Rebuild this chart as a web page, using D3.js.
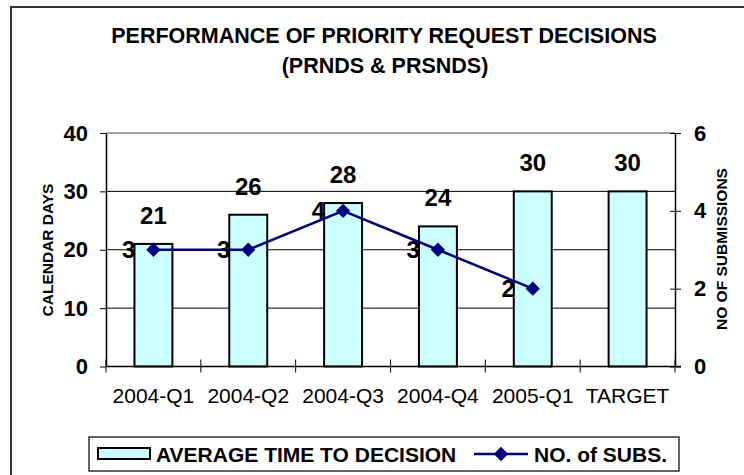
<!DOCTYPE html>
<html>
<head>
<meta charset="utf-8">
<script src="https://cdn.jsdelivr.net/npm/d3@7"></script>
<style>
  body { margin: 0; background: #fff; }
  svg { display: block; font-family: "Liberation Sans", Arial, sans-serif; }
</style>
</head>
<body>
<svg id="chart" width="744" height="475"></svg>
<script>
const categories = ["2004-Q1", "2004-Q2", "2004-Q3", "2004-Q4", "2005-Q1", "TARGET"];
const avgDays = [21, 26, 28, 24, 30, 30];
const subs = [3, 3, 4, 3, 2, null];
const leftTicks = [0, 10, 20, 30, 40];
const rightTicks = [0, 2, 4, 6];

const svg = d3.select("#chart");
const plot = { left: 106, right: 675, top: 133, bottom: 366.5 };

// outer chart frame (right/bottom run off the page)
svg.append("rect")
  .attr("x", 11).attr("y", 7)
  .attr("width", 800).attr("height", 500)
  .attr("fill", "#fff").attr("stroke", "#333").attr("stroke-width", 2);

// title
svg.append("text").attr("x", 384).attr("y", 43)
  .attr("text-anchor", "middle").attr("font-size", 21.5).attr("font-weight", "bold")
  .text("PERFORMANCE OF PRIORITY REQUEST DECISIONS");
svg.append("text").attr("x", 385).attr("y", 73)
  .attr("text-anchor", "middle").attr("font-size", 21.5).attr("font-weight", "bold")
  .text("(PRNDS & PRSNDS)");

const x = d3.scaleBand().domain(categories).range([plot.left, plot.right]).padding(0);
const y = d3.scaleLinear().domain([0, 40]).range([plot.bottom, plot.top]);
const y2 = d3.scaleLinear().domain([0, 6]).range([plot.bottom, plot.top]);
const barW = x.bandwidth() * 0.4;
const cx = d => x(d) + x.bandwidth() / 2;

// gridlines
svg.append("g").selectAll("line")
  .data(leftTicks.filter(t => t > 0))
  .join("line")
  .attr("x1", plot.left).attr("x2", plot.right)
  .attr("y1", d => y(d)).attr("y2", d => y(d))
  .attr("stroke", d => d === 40 ? "#808080" : "#000")
  .attr("stroke-width", d => d === 40 ? 1.5 : 1);

// bars
svg.append("g").selectAll("rect")
  .data(avgDays)
  .join("rect")
  .attr("x", (d, i) => cx(categories[i]) - barW / 2)
  .attr("y", d => y(d))
  .attr("width", barW)
  .attr("height", d => plot.bottom - y(d))
  .attr("fill", "#CCFFFF").attr("stroke", "#000").attr("stroke-width", 2);

// left axis
const gl = svg.append("g")
  .attr("transform", `translate(${plot.left},0)`)
  .call(d3.axisLeft(y).tickValues(leftTicks).tickSize(6).tickPadding(12).tickSizeOuter(0));
gl.select(".domain").attr("stroke", "#000").attr("stroke-width", 1.5);
gl.selectAll("text").attr("font-size", 22).attr("font-weight", "bold")
  .attr("font-family", "Liberation Sans, Arial, sans-serif").attr("fill", "#000");

// right axis
const gr = svg.append("g")
  .attr("transform", `translate(${plot.right},0)`)
  .call(d3.axisRight(y2).tickValues(rightTicks).tickFormat(d3.format("d"))
    .tickSize(6).tickPadding(13).tickSizeOuter(0));
gr.select(".domain").attr("stroke", "#000").attr("stroke-width", 1.5);
gr.selectAll(".tick line").attr("x1", -5).attr("x2", 6);
gr.selectAll("text").attr("font-size", 22).attr("font-weight", "bold")
  .attr("font-family", "Liberation Sans, Arial, sans-serif").attr("fill", "#000");

// bottom axis line and crossing ticks at category boundaries
svg.append("line")
  .attr("x1", plot.left).attr("x2", plot.right + 6)
  .attr("y1", plot.bottom).attr("y2", plot.bottom)
  .attr("stroke", "#000").attr("stroke-width", 1.5);
const bounds = categories.map(c => x(c)).concat([plot.right]);
svg.append("g").selectAll("line")
  .data(bounds)
  .join("line")
  .attr("x1", d => d).attr("x2", d => d)
  .attr("y1", plot.bottom - 7).attr("y2", plot.bottom + 6)
  .attr("stroke", "#000").attr("stroke-width", 1);

// category labels
svg.append("g").selectAll("text")
  .data(categories)
  .join("text")
  .attr("x", d => cx(d)).attr("y", 403)
  .attr("text-anchor", "middle").attr("font-size", 21)
  .text(d => d);

// bar value labels
svg.append("g").selectAll("text")
  .data(avgDays)
  .join("text")
  .attr("x", (d, i) => cx(categories[i]))
  .attr("y", d => y(d) - 20)
  .attr("text-anchor", "middle").attr("font-size", 24).attr("font-weight", "bold")
  .text(d => d);

// submissions line
const pts = subs.map((v, i) => ({ c: categories[i], v })).filter(d => d.v !== null);
svg.append("path")
  .datum(pts)
  .attr("fill", "none").attr("stroke", "#000080").attr("stroke-width", 2.5)
  .attr("d", d3.line().x(d => cx(d.c)).y(d => y2(d.v)));
const diamond = d3.symbol().type(d3.symbolDiamond2).size(130);
svg.append("g").selectAll("path")
  .data(pts)
  .join("path")
  .attr("transform", d => `translate(${cx(d.c)},${y2(d.v)})`)
  .attr("d", diamond)
  .attr("fill", "#000080");
svg.append("g").selectAll("text")
  .data(pts)
  .join("text")
  .attr("x", d => cx(d.c) - 18).attr("y", d => y2(d.v) + 8.5)
  .attr("text-anchor", "end").attr("font-size", 24).attr("font-weight", "bold")
  .text(d => d.v);

// axis titles
svg.append("text")
  .attr("transform", "translate(53,250) rotate(-90)")
  .attr("text-anchor", "middle").attr("font-size", 15.5).attr("font-weight", "bold")
  .text("CALENDAR DAYS");
svg.append("text")
  .attr("transform", "translate(727,249) rotate(-90)")
  .attr("text-anchor", "middle").attr("font-size", 15.5).attr("font-weight", "bold")
  .text("NO OF SUBMISSIONS");

// legend
const lg = svg.append("g");
lg.append("rect").attr("x", 89).attr("y", 437).attr("width", 590).attr("height", 34)
  .attr("fill", "#fff").attr("stroke", "#333").attr("stroke-width", 1.5);
lg.append("rect").attr("x", 98).attr("y", 448).attr("width", 52).attr("height", 11)
  .attr("fill", "#CCFFFF").attr("stroke", "#000").attr("stroke-width", 2);
lg.append("text").attr("x", 156).attr("y", 462)
  .attr("font-size", 21).attr("font-weight", "bold").text("AVERAGE TIME TO DECISION");
lg.append("line").attr("x1", 474).attr("x2", 528).attr("y1", 454).attr("y2", 454)
  .attr("stroke", "#000080").attr("stroke-width", 2.5);
lg.append("path").attr("transform", "translate(501,454)").attr("d", diamond).attr("fill", "#000080");
lg.append("text").attr("x", 534).attr("y", 462)
  .attr("font-size", 21).attr("font-weight", "bold").text("NO. of SUBS.");
</script>
</body>
</html>
